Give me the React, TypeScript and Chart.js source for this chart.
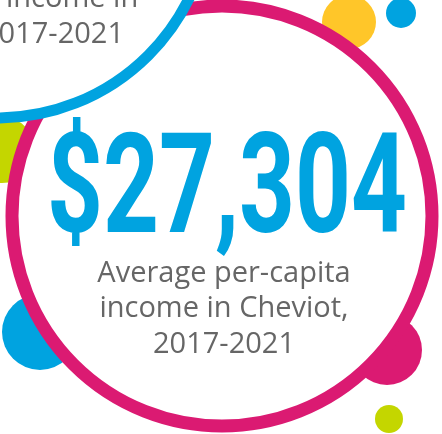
import React, { useEffect, useRef } from "react";
import { Chart, registerables } from "chart.js";

Chart.register(...registerables);

// Canvas extent (data units = pixels)
const xRange = [0, 442];
const yRange = [0, 434];

// Decorative dots: centre x, centre y, radius
const dotX = [2, 40, 387, 349, 401, 389];
const dotY = [150, 332, 350, 22, 13, 419];
const dotR = [33, 38, 35, 27, 15, 14];
const dotColors = ["#C4D600", "#00A3E0", "#DB1A72", "#FFC629", "#00A3E0", "#C4D600"];

// Rings: main (pink) and corner (blue)
const ringX = [222, -3];
const ringY = [216, -96];
const ringR = [210, 214];
const ringColors = ["#DB1A72", "#00A3E0"];

// Texts
const bigValue = "$27,304";
const mainLines = ["Average per-capita", "income in Cheviot,", "2017-2021"];
const cornerLines = ["income in", "2017-2021"];

const textPlugin = {
  id: "infoText",
  afterDatasetsDraw(chart: any) {
    const ctx = chart.ctx as CanvasRenderingContext2D;
    ctx.save();
    ctx.fillStyle = "#00A3E0";
    ctx.font = "700 139px Roboto";
    ctx.textBaseline = "alphabetic";
    ctx.textAlign = "center";
    const w = ctx.measureText(bigValue).width;
    ctx.save();
    ctx.translate(227, 232);
    ctx.scale(360 / w, 1);
    ctx.fillText(bigValue, 0, 0);
    ctx.restore();

    ctx.fillStyle = "#666666";
    ctx.font = "400 29px 'Open Sans'";
    ctx.textAlign = "center";
    const baselines = [282, 317, 353];
    mainLines.forEach((t, i) => ctx.fillText(t, 224, baselines[i]));

    ctx.textAlign = "left";
    ctx.fillText(cornerLines[0], 6, 7);
    ctx.textAlign = "right";
    ctx.fillText(cornerLines[1], 124, 43);
    ctx.restore();
  },
};

export default function App() {
  const ref = useRef<HTMLCanvasElement | null>(null);
  useEffect(() => {
    if (!ref.current) return;
    const dots = dotX.map((x, i) => ({ x, y: dotY[i], r: dotR[i] }));
    const chart = new Chart(ref.current, {
      type: "bubble",
      data: {
        datasets: [
          {
            label: "corner ring",
            data: [{ x: ringX[1], y: ringY[1], r: ringR[1] }],
            backgroundColor: "#ffffff",
            borderColor: ringColors[1],
            borderWidth: 11,
            order: 0,
            clip: false,
          } as any,
          {
            label: "main ring",
            data: [{ x: ringX[0], y: ringY[0], r: ringR[0] }],
            backgroundColor: "#ffffff",
            borderColor: ringColors[0],
            borderWidth: 13,
            order: 1,
            clip: false,
          },
          {
            label: "dots",
            data: dots,
            backgroundColor: dotColors,
            borderWidth: 0,
            order: 2,
            clip: false,
          },
        ],
      },
      options: {
        animation: false,
        responsive: false,
        events: [],
        layout: { padding: 0, autoPadding: false },
        scales: {
          x: { type: "linear", min: xRange[0], max: xRange[1], display: false },
          y: { type: "linear", min: yRange[0], max: yRange[1], reverse: true, display: false },
        },
        plugins: { legend: { display: false }, tooltip: { enabled: false } },
      },
      plugins: [textPlugin],
    });
    return () => chart.destroy();
  }, []);
  return (
    <div style={{ position: "fixed", left: 0, top: 0, width: 442, height: 434, background: "#fff" }}>
      <canvas ref={ref} width={442} height={434} style={{ display: "block" }} />
    </div>
  );
}
